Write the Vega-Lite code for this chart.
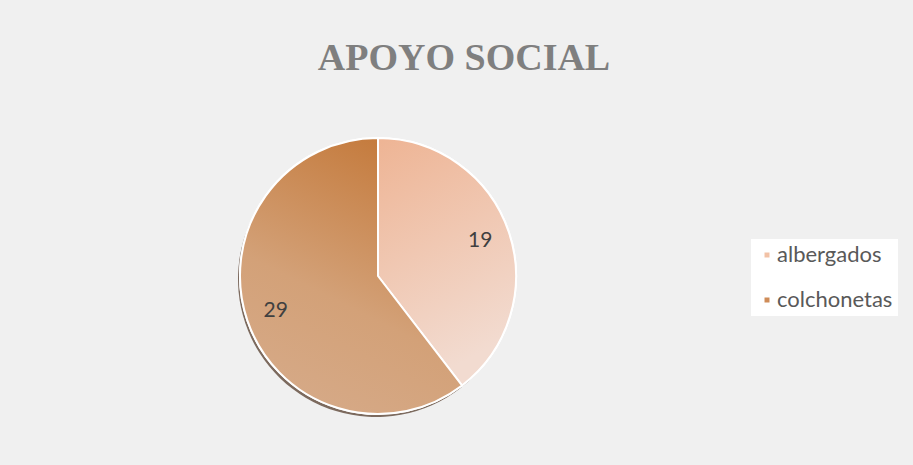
{
  "$schema": "https://vega.github.io/schema/vega-lite/v6.json",
  "autosize": {"type": "none"},
  "width": 276,
  "height": 276,
  "padding": {"left": 240, "top": 138, "right": 397, "bottom": 51},
  "background": "#f0f0f0",
  "config": {"view": {"stroke": null}},
  "title": {
    "text": "APOYO SOCIAL",
    "font": "Liberation Serif",
    "fontSize": 38,
    "fontWeight": "bold",
    "color": "#7f7f7f",
    "anchor": "middle",
    "dx": 86,
    "offset": 56
  },
  "data": {
    "values": [
      {"categoria": "albergados", "valor": 19},
      {"categoria": "colchonetas", "valor": 29}
    ]
  },
  "encoding": {
    "theta": {"field": "valor", "type": "quantitative", "stack": true},
    "order": {"field": "categoria", "type": "nominal"}
  },
  "layer": [
    {
      "mark": {"type": "arc", "color": "#4a3020", "opacity": 0.7, "yOffset": 3, "xOffset": -2},
      "encoding": {}
    },
    {
      "mark": {"type": "arc", "stroke": "#ffffff", "strokeWidth": 2},
      "encoding": {
        "color": {
          "field": "categoria",
          "type": "nominal",
          "scale": {"domain": ["albergados", "colchonetas"], "range": ["#f2c2a6", "#cf8c58"]},
          "legend": {
            "title": null,
            "orient": "none",
            "legendX": 511,
            "legendY": 101,
            "padding": 5,
            "fillColor": "#ffffff",
            "symbolType": "square",
            "symbolSize": 25,
            "symbolStrokeWidth": 0,
            "labelFont": "Lato",
            "labelFontSize": 22,
            "labelColor": "#595959",
            "labelOffset": -1,
            "rowPadding": 23
          }
        }
      }
    },
    {
      "mark": {"type": "arc", "stroke": "#ffffff", "strokeWidth": 2},
      "encoding": {
        "color": {
          "condition": {
            "test": "datum.categoria === 'albergados'",
            "value": {"gradient": "linear", "x1": 0, "y1": 0, "x2": 0.3, "y2": 1,
              "stops": [{"offset": 0, "color": "#eeb494"}, {"offset": 1, "color": "#f2dbd0"}]}
          },
          "value": {"gradient": "linear", "x1": 0.7, "y1": 0, "x2": 0.3, "y2": 1,
            "stops": [{"offset": 0, "color": "#c4793a"}, {"offset": 0.6, "color": "#d3a178"}, {"offset": 1, "color": "#d6aa88"}]}
        }
      }
    },
    {
      "mark": {"type": "text", "radius": 108, "font": "Lato", "fontSize": 21, "color": "#404040", "align": "center", "baseline": "middle"},
      "encoding": {
        "text": {"field": "valor", "type": "quantitative"}
      }
    }
  ]
}
